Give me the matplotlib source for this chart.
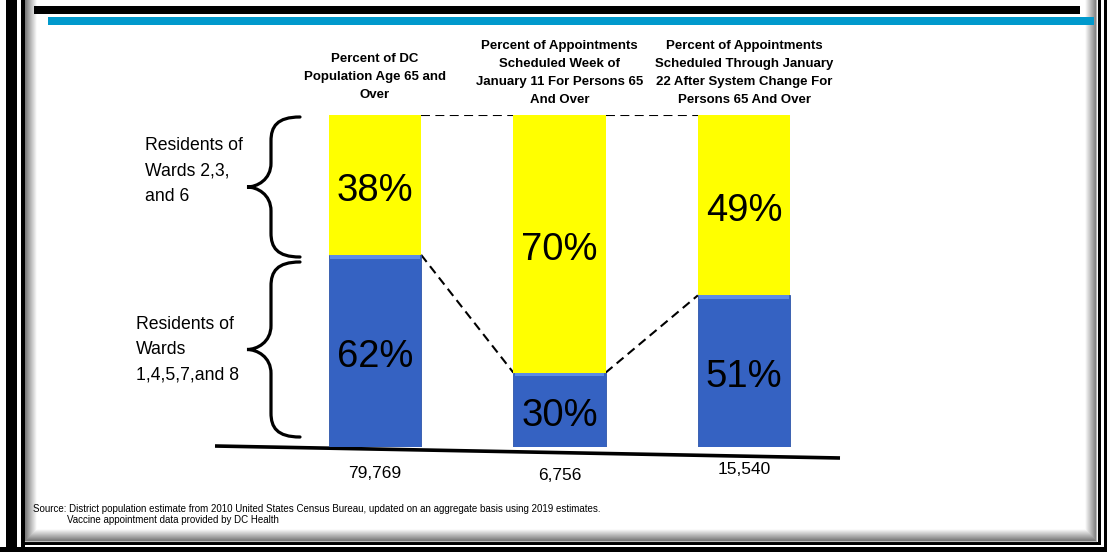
import numpy as np
import matplotlib
matplotlib.use("Agg")
import matplotlib.pyplot as plt
from matplotlib.patches import Rectangle, PathPatch
from matplotlib.path import Path
from matplotlib import transforms

plt.rcParams["font.family"] = ["Liberation Sans", "DejaVu Sans"]

# --- data -------------------------------------------------------------------
titles = [
    "Percent of DC\nPopulation Age 65 and\nOver",
    "Percent of Appointments\nScheduled Week of\nJanuary 11 For Persons 65\nAnd Over",
    "Percent of Appointments\nScheduled Through January\n22 After System Change For\nPersons 65 And Over",
]
wards_1_4_5_7_8 = [62, 30, 51]
wards_2_3_6 = [38, 70, 49]
counts = ["79,769", "6,756", "15,540"]
group_labels = ["Residents of\nWards 2,3,\nand 6", "Residents of\nWards\n1,4,5,7,and 8"]
source_lines = [
    "Source: District population estimate from 2010 United States Census Bureau, "
    "updated on an aggregate basis using 2019 estimates.",
    "Vaccine appointment data provided by DC Health",
]

BLUE = "#3562C2"
BLUE_HI = "#5C8CE4"
YELLOW = "#FFFF00"
W, H = 1107, 552

fig = plt.figure(figsize=(W / 100, H / 100), dpi=100)

# pixel-space layer for frame, braces and free text
deco = fig.add_axes([0, 0, 1, 1])
deco.set_xlim(0, W)
deco.set_ylim(H, 0)
deco.axis("off")

# soft inner shadow along left, right and bottom edges of the panel
xx, yy = np.meshgrid(np.arange(25, 1097) + 0.5, np.arange(0, 541) + 0.5)
d = np.minimum.reduce([xx - 25, 1097 - xx, 541 - yy])
shade = np.clip(d / 12.0, 0, 1)
img = 0.45 + 0.55 * shade
deco.imshow(img, cmap="gray", vmin=0, vmax=1, extent=(25, 1097, 541, 0),
            aspect="auto", interpolation="bilinear", zorder=0)

frame = [
    (6, 0, 11, H), (21, 0, 4, H),              # left double rule
    (1098, 0, 2.5, 545), (1104, 0, 3, H),      # right double rule
    (21, 542, 1079, 2.5), (0, 547, W, 5),      # bottom double rule
    (34, 6, 1046, 8),                          # top black band
]
for x, y, w, h in frame:
    deco.add_patch(Rectangle((x, y), w, h, color="black", lw=0, zorder=1))
deco.add_patch(Rectangle((48, 17), 1046, 8, color="#0099CC", lw=0, zorder=1))
deco.plot([25, 1096, 1096], [540.5, 540.5, 0], color="#BBBBBB", lw=0.8, zorder=1)

# slanted base rule
deco.plot([215, 840], [446, 458], color="black", lw=2.6, solid_capstyle="butt", zorder=2)


def brace(x_end, x_spine, x_tip, y_top, y_bot, r=24):
    ym = (y_top + y_bot) / 2
    verts = [
        (x_end, y_top),
        (x_spine + 6, y_top), (x_spine, y_top + r * 0.4), (x_spine, y_top + r),
        (x_spine, ym - r),
        (x_spine, ym - r * 0.3), (x_tip + 10, ym), (x_tip, ym),
        (x_tip + 10, ym), (x_spine, ym + r * 0.3), (x_spine, ym + r),
        (x_spine, y_bot - r),
        (x_spine, y_bot - r * 0.4), (x_spine + 6, y_bot), (x_end, y_bot),
    ]
    codes = [Path.MOVETO] + [Path.CURVE4] * 3 + [Path.LINETO] + [Path.CURVE4] * 6 \
        + [Path.LINETO] + [Path.CURVE4] * 3
    deco.add_patch(PathPatch(Path(verts, codes), fill=False, lw=2.3,
                             edgecolor="black", capstyle="round", zorder=2))


brace(300, 271, 247, 117, 257)
brace(300, 271, 247, 262, 437)

deco.text(145, 171, group_labels[0], fontsize=12.7, linespacing=1.65,
          ha="left", va="center")
deco.text(136, 350, group_labels[1], fontsize=12.7, linespacing=1.65,
          ha="left", va="center")

deco.text(33, 509, source_lines[0], fontsize=7.0, ha="left", va="center")
deco.text(67, 520, source_lines[1], fontsize=7.0, ha="left", va="center")

# --- stacked bars -------------------------------------------------------------
YMIN = 9.8  # bars run below the base rule and are cut there
ax = fig.add_axes([190.5 / W, 1 - 447 / H, 738 / W, 332 / H])
ax.patch.set_alpha(0)
ax.axis("off")
ax.set_xlim(-1, 3)
ax.set_ylim(YMIN, 100)

x = np.arange(len(titles))
bw = 0.5
blue = np.array(wards_1_4_5_7_8, dtype=float)
yellow = np.array(wards_2_3_6, dtype=float)

ax.bar(x, blue, width=bw, color=BLUE, edgecolor="#2E56AA", lw=0.6, zorder=2)
ax.bar(x, np.full(len(x), 1.0), bottom=blue - 1.0, width=bw * 0.97,
       color=BLUE_HI, lw=0, zorder=3)
ax.bar(x, yellow, bottom=blue, width=bw, color=YELLOW, lw=0, zorder=2)

dash = dict(color="black", lw=1.5, dashes=(4.3, 2.6), zorder=1)
for i in range(len(x) - 1):
    xa, xb = x[i] + bw / 2, x[i + 1] - bw / 2
    ax.plot([xa, xb], [100, 100], **dash)
    ax.plot([xa, xb], [blue[i], blue[i + 1]], **dash)

# value labels sit a few pixels low in their segments
lbl = transforms.offset_copy(ax.transData, fig=fig, y=-6, units="dots")
for i in range(len(x)):
    ax.text(x[i], (blue[i] + 100) / 2, f"{yellow[i]:.0f}%", transform=lbl,
            fontsize=27.5, ha="center", va="center", zorder=4)
    ax.text(x[i], (blue[i] + YMIN) / 2, f"{blue[i]:.0f}%", transform=lbl,
            fontsize=27.5, ha="center", va="center", zorder=4)

mix = transforms.blended_transform_factory(ax.transData, deco.transData)
title_y = [77, 73, 73]
count_y = [473, 476, 470]
for i in range(len(x)):
    deco.text(x[i], title_y[i], titles[i], transform=mix, fontsize=9.5,
              fontweight="bold", linespacing=1.7, ha="center", va="center")
    deco.text(x[i], count_y[i], counts[i], transform=mix, fontsize=12.5,
              ha="center", va="center")

fig.savefig("out.png", dpi=100)
